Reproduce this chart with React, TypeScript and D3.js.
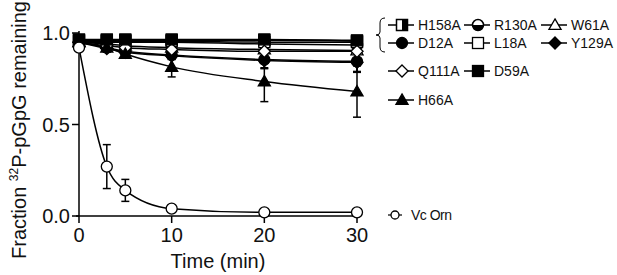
import React from "react";
import * as d3 from "d3";

const times = [0, 3, 5, 10, 20, 30];
const seriesNames = ["H158A", "R130A", "W61A", "D12A", "L18A", "Y129A", "Q111A", "D59A", "H66A", "Vc Orn"];
const markerTypes = ["halfSquare", "halfCircle", "triOpen", "circleFilled", "squareOpen", "diamondFilled", "diamondOpen", "squareFilled", "triFilled", "circleOpen"];
const valuesH158A = [0.96, 0.96, 0.96, 0.96, 0.96, 0.955];
const valuesR130A = [0.95, 0.95, 0.95, 0.95, 0.94, 0.935];
const valuesW61A = [0.95, 0.94, 0.93, 0.92, 0.91, 0.905];
const valuesD12A = [0.95, 0.92, 0.9, 0.88, 0.855, 0.845];
const valuesL18A = [0.955, 0.955, 0.955, 0.955, 0.95, 0.95];
const valuesY129A = [0.95, 0.915, 0.895, 0.875, 0.85, 0.84];
const valuesQ111A = [0.95, 0.93, 0.92, 0.91, 0.9, 0.9];
const valuesD59A = [0.965, 0.965, 0.965, 0.965, 0.965, 0.96];
const valuesH66A = [0.95, 0.92, 0.885, 0.815, 0.735, 0.68];
const valuesVcOrn = [0.92, 0.27, 0.14, 0.04, 0.02, 0.02];
const errH66A = [0.01, 0.02, 0.02, 0.055, 0.11, 0.14];
const errVcOrn = [0.02, 0.12, 0.06, 0.01, 0.01, 0.01];
const errD12A = [0.01, 0.02, 0.03, 0.02, 0.05, 0.06];
const errY129A = [0.01, 0.02, 0.02, 0.02, 0.04, 0.05];
const xTicks = [0, 10, 20, 30];
const yTicks = [0, 0.5, 1.0];

const allValues = [valuesH158A, valuesR130A, valuesW61A, valuesD12A, valuesL18A, valuesY129A, valuesQ111A, valuesD59A, valuesH66A, valuesVcOrn];
const allErrors = [null, null, null, errD12A, null, errY129A, null, null, errH66A, errVcOrn];

const x = d3.scaleLinear().domain([0, 30]).range([79, 357]);
const y = d3.scaleLinear().domain([0, 1]).range([216, 33]);

function Marker({ type, cx, cy, s }: { type: string; cx: number; cy: number; s: number }) {
  const h = s / 2;
  switch (type) {
    case "halfSquare":
      return (
        <g>
          <rect x={cx - h} y={cy - h} width={s} height={s} fill="white" stroke="black" strokeWidth={1.5} />
          <rect x={cx} y={cy - h} width={h} height={s} fill="black" />
        </g>
      );
    case "halfCircle":
      return (
        <g>
          <circle cx={cx} cy={cy} r={h} fill="white" stroke="black" strokeWidth={1.5} />
          <path d={`M${cx - h},${cy} A${h},${h} 0 0 0 ${cx + h},${cy} Z`} fill="black" />
        </g>
      );
    case "triOpen":
    case "triFilled":
      return (
        <path
          d={`M${cx},${cy - h * 1.1} L${cx + h * 1.1},${cy + h * 0.8} L${cx - h * 1.1},${cy + h * 0.8} Z`}
          fill={type === "triFilled" ? "black" : "white"}
          stroke="black"
          strokeWidth={1.3}
        />
      );
    case "circleFilled":
    case "circleOpen":
      return <circle cx={cx} cy={cy} r={h} fill={type === "circleFilled" ? "black" : "white"} stroke="black" strokeWidth={1.3} />;
    case "squareOpen":
    case "squareFilled":
      return <rect x={cx - h} y={cy - h} width={s} height={s} fill={type === "squareFilled" ? "black" : "white"} stroke="black" strokeWidth={1.3} />;
    case "diamondFilled":
    case "diamondOpen":
      return (
        <path
          d={`M${cx},${cy - h * 1.1} L${cx + h * 1.1},${cy} L${cx},${cy + h * 1.1} L${cx - h * 1.1},${cy} Z`}
          fill={type === "diamondFilled" ? "black" : "white"}
          stroke="black"
          strokeWidth={1.3}
        />
      );
  }
  return null;
}

const legendItems = [
  { i: 0, lx: 402, ly: 25 },
  { i: 1, lx: 478, ly: 25 },
  { i: 2, lx: 555, ly: 25 },
  { i: 3, lx: 402, ly: 43 },
  { i: 4, lx: 478, ly: 43 },
  { i: 5, lx: 555, ly: 43 },
  { i: 6, lx: 402, ly: 71 },
  { i: 7, lx: 478, ly: 71 },
  { i: 8, lx: 402, ly: 100 },
];

export default function App() {
  const line = d3
    .line<number>()
    .x((_, i) => x(times[i]))
    .y((v) => y(v))
    .curve(d3.curveMonotoneX);
  const font = "Liberation Sans, Arial, sans-serif";
  return (
    <svg width={617} height={275} style={{ position: "absolute", left: 0, top: 0 }} fontFamily={font}>
      <rect width={617} height={275} fill="white" />
      <line x1={79} x2={79} y1={y(1.0) - 2} y2={216} stroke="black" strokeWidth={1.5} />
      <line x1={76} x2={357} y1={216} y2={216} stroke="black" strokeWidth={1.5} />
      {yTicks.map((t) => (
        <g key={t}>
          <line x1={72} x2={79} y1={y(t)} y2={y(t)} stroke="black" strokeWidth={1.5} />
          <text x={70} y={y(t)} dy="0.36em" textAnchor="end" fontSize={20} fill="#111">
            {t.toFixed(1)}
          </text>
        </g>
      ))}
      {xTicks.map((t) => (
        <g key={t}>
          <line x1={x(t)} x2={x(t)} y1={216} y2={223} stroke="black" strokeWidth={1.5} />
          <text x={x(t)} y={242} textAnchor="middle" fontSize={20} fill="#111">
            {t}
          </text>
        </g>
      ))}
      <text x={218} y={268} textAnchor="middle" fontSize={20} fill="#111">
        Time (min)
      </text>
      <text transform="translate(26,130) rotate(-90)" textAnchor="middle" fontSize={20} fill="#111">
        Fraction <tspan fontSize={12} dy={-8}>32</tspan>
        <tspan dy={8}>P-pGpG remaining</tspan>
      </text>
      {allValues.map((vals, si) => (
        <path key={"l" + si} d={line(vals) || ""} fill="none" stroke="black" strokeWidth={1.5} />
      ))}
      {allValues.map((vals, si) => {
        const errs = allErrors[si];
        if (!errs) return null;
        return vals.map((v, i) => (
          <g key={"e" + si + "-" + i} stroke="black" strokeWidth={1.5}>
            <line x1={x(times[i])} x2={x(times[i])} y1={y(v + errs[i])} y2={y(v - errs[i])} />
            <line x1={x(times[i]) - 4} x2={x(times[i]) + 4} y1={y(v + errs[i])} y2={y(v + errs[i])} />
            <line x1={x(times[i]) - 4} x2={x(times[i]) + 4} y1={y(v - errs[i])} y2={y(v - errs[i])} />
          </g>
        ));
      })}
      {allValues.map((vals, si) =>
        vals.map((v, i) => (
          <Marker key={"m" + si + "-" + i} type={markerTypes[si]} cx={x(times[i])} cy={y(v)} s={11} />
        ))
      )}
      <path d="M385,18 Q380,18 380,23 L380,32 Q380,35 376,35 Q380,35 380,38 L380,47 Q380,52 385,52" fill="none" stroke="black" strokeWidth={1} />
      {legendItems.map(({ i, lx, ly }) => (
        <g key={"lg" + i}>
          <line x1={lx - 14} x2={lx + 12} y1={ly} y2={ly} stroke="black" strokeWidth={1.5} />
          <Marker type={markerTypes[i]} cx={lx} cy={ly} s={11} />
          <text x={lx + 16} y={ly} dy="0.36em" fontSize={14} fill="#111">
            {seriesNames[i]}
          </text>
        </g>
      ))}
      <g>
        <line x1={388} x2={402} y1={215} y2={215} stroke="black" strokeWidth={1.2} />
        <Marker type="circleOpen" cx={395} cy={215} s={8} />
        <text x={411} y={215} dy="0.36em" fontSize={14} fill="#111" letterSpacing={-0.5}>
          {seriesNames[9]}
        </text>
      </g>
    </svg>
  );
}
